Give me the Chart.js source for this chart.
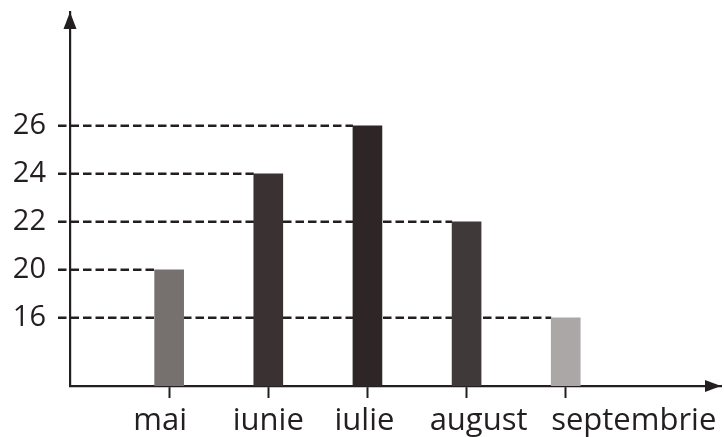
<!DOCTYPE html>
<html>
<head>
<meta charset="utf-8">
<script src="https://cdn.jsdelivr.net/npm/chart.js@4/dist/chart.umd.min.js"></script>
<style>
  html, body { margin: 0; padding: 0; background: #ffffff; }
  #wrap { width: 725px; height: 437px; }
</style>
</head>
<body>
<div id="wrap"><canvas id="c" width="725" height="437"></canvas></div>
<script>
// ---- data ----
const categories = ['mai', 'iunie', 'iulie', 'august', 'septembrie'];
const values = [20, 24, 26, 22, 16];
const yTicks = [16, 20, 22, 24, 26];
const barColors = ['#76716f', '#3a3132', '#2d2526', '#3f3939', '#aaa7a6'];

const INK = '#231e1f';
const BASE_GAP = 1.42;   // steps between axis origin and first tick
const TOTAL_STEPS = 7.79; // steps from origin to top of axis
const LABEL_SHIFT = [-9, 0, -3, 12, 68]; // horizontal nudge of month names, px

// y scale with evenly spaced ticks (broken axis as in the textbook figure)
class SteppedScale extends Chart.LinearScale {
  static id = 'stepped';
  buildTicks() { return yTicks.map(v => ({ value: v })); }
  _steps(v) {
    const t = yTicks;
    if (v <= t[0]) return (v / t[0]) * BASE_GAP;
    for (let i = 1; i < t.length; i++) {
      if (v <= t[i]) return BASE_GAP + (i - 1) + (v - t[i - 1]) / (t[i] - t[i - 1]);
    }
    return BASE_GAP + (t.length - 1) + (v - t[t.length - 1]) / 2;
  }
  getPixelForValue(v) {
    if (v === null || v === undefined || isNaN(v)) return NaN;
    return this.getPixelForDecimal(this._steps(v) / TOTAL_STEPS);
  }
  getValueForPixel(p) {
    const s = this.getDecimalForPixel(p) * TOTAL_STEPS;
    const t = yTicks;
    if (s <= BASE_GAP) return s / BASE_GAP * t[0];
    const k = s - BASE_GAP;
    const i = Math.min(Math.floor(k), t.length - 2);
    return t[i] + (k - i) * (t[i + 1] - t[i]);
  }
}
Chart.register(SteppedScale);

const guidePlugin = {
  id: 'guides',
  beforeDatasetsDraw(chart) {
    const { ctx } = chart;
    const ys = chart.scales.y;
    const xs = chart.scales.x;
    const meta = chart.getDatasetMeta(0);
    ctx.save();
    ctx.strokeStyle = INK;
    ctx.lineWidth = 2.5;
    ctx.setLineDash([8.5, 4]);
    meta.data.forEach((bar, i) => {
      const y = ys.getPixelForValue(values[i]);
      const xEnd = bar.x - bar.width / 2;
      ctx.beginPath();
      ctx.moveTo(xs.left - 12, y);
      ctx.lineTo(xEnd, y);
      ctx.stroke();
    });
    ctx.restore();
  },
  afterDraw(chart) {
    const { ctx, chartArea: a } = chart;
    const xs = chart.scales.x;
    ctx.save();
    ctx.fillStyle = INK;
    // y arrow
    ctx.beginPath();
    ctx.moveTo(a.left, a.top);
    ctx.lineTo(a.left - 6.5, a.top + 17);
    ctx.lineTo(a.left + 6.5, a.top + 17);
    ctx.closePath();
    ctx.fill();
    // x arrow
    ctx.beginPath();
    ctx.moveTo(a.right, a.bottom);
    ctx.lineTo(a.right - 16, a.bottom - 6);
    ctx.lineTo(a.right - 16, a.bottom + 6);
    ctx.closePath();
    ctx.fill();
    // month names under the axis
    ctx.font = '500 31px "Open Sans"';
    ctx.textAlign = 'center';
    ctx.textBaseline = 'alphabetic';
    xs.ticks.forEach((t, i) => {
      ctx.fillText(categories[i], xs.getPixelForValue(t.value) + LABEL_SHIFT[i], a.bottom + 44);
    });
    ctx.restore();
  }
};

new Chart(document.getElementById('c'), {
  type: 'bar',
  data: {
    datasets: [{
      data: categories.map((c, i) => ({ x: i + 1, y: values[i] })),
      backgroundColor: barColors,
      borderWidth: 0,
      barThickness: 29
    }]
  },
  options: {
    responsive: false,
    animation: false,
    layout: { padding: { top: 12, right: 4, left: 0, bottom: 0 } },
    plugins: { legend: { display: false }, tooltip: { enabled: false } },
    scales: {
      x: {
        type: 'linear',
        offset: false,
        min: 0,
        max: 6.566,
        afterBuildTicks: s => { s.ticks = categories.map((c, i) => ({ value: i + 1 })); },
        afterFit: s => { s.height = 51; s.paddingLeft = 0; s.paddingRight = 0; },
        ticks: { display: false, autoSkip: false, maxRotation: 0 },
        grid: { display: true, offset: false, drawOnChartArea: false, drawTicks: true, tickLength: 12, tickWidth: 2, tickColor: INK },
        border: { display: true, color: INK, width: 2.2 }
      },
      y: {
        type: 'stepped',
        min: 0,
        max: 30,
        afterFit: s => { s.width = 70; s.paddingTop = 0; s.paddingBottom = 0; },
        ticks: {
          padding: 24,
          color: INK,
          font: { family: 'Open Sans', size: 29, weight: '500' }
        },
        grid: { display: false, drawTicks: false },
        border: { display: true, color: INK, width: 2.2 }
      }
    }
  },
  plugins: [guidePlugin]
});
</script>
</body>
</html>
